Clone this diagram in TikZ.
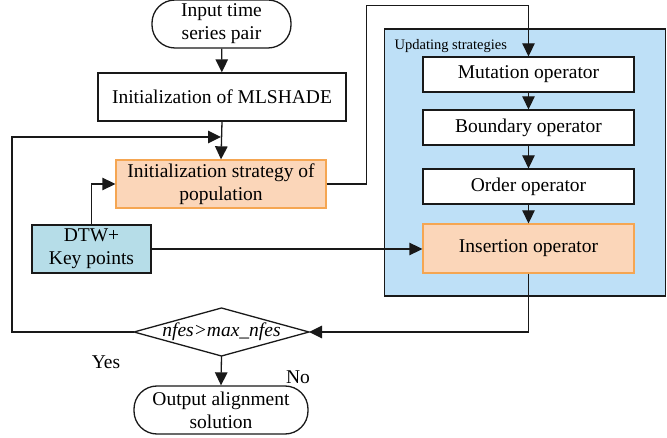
\documentclass[tikz,border=0pt]{standalone}
\usepackage{fontspec}
\setmainfont{Liberation Serif}
\usetikzlibrary{arrows.meta}
\definecolor{contblue}{RGB}{190,224,247}
\definecolor{orfill}{RGB}{251,214,185}
\definecolor{ordraw}{RGB}{245,166,82}
\definecolor{dtwfill}{RGB}{182,221,232}
\definecolor{linegray}{RGB}{25,25,25}
\begin{document}
\begin{tikzpicture}[x=1pt,y=-1pt,
  every node/.style={font=\fontsize{19.5}{23}\selectfont, inner sep=0pt, align=center},
  line width=1.3pt, draw=linegray,
  >={Triangle[length=13pt,width=12.5pt]},
  box/.style={draw=linegray, fill=white, minimum height=35pt, minimum width=211pt},
  orbox/.style={draw=ordraw, fill=orfill, minimum height=48pt},
  term/.style={draw=linegray, fill=white, rounded corners=23pt, minimum height=48pt},
  conn/.style={->, draw=linegray}]
\useasboundingbox (0,0) rectangle (667,438);
% container
\node[draw=linegray, fill=contblue, minimum width=281pt, minimum height=267pt] (cont) at (525,162.5) {};
\node[anchor=west, font=\fontsize{14.5}{17}\selectfont] (contlabel) at (394,46) {Updating strategies};
% left column
\node[term, minimum width=139pt] (input) at (221.5,24) {Input time\\series pair};
\node[box, minimum width=248pt, minimum height=48pt] (mlshade) at (222,97) {Initialization of MLSHADE};
\node[orbox, minimum width=210pt] (initpop) at (221,184) {Initialization strategy of\\population};
\node[draw=linegray, fill=dtwfill, minimum width=119pt, minimum height=48pt] (dtw) at (91.5,249) {DTW+\\Key points};
% right column
\node[box] (mut) at (528.5,74.5) {Mutation operator};
\node[box] (bnd) at (528.5,127.5) {Boundary operator};
\node[box] (ord) at (528.5,186.5) {Order operator};
\node[orbox, minimum width=211pt, minimum height=49pt] (ins) at (528.5,248.5) {Insertion operator};
% decision
\node (dec) at (221.5,332) {\textit{nfes>max\_nfes}};
\coordinate (decL) at (134,332);
\coordinate (decR) at (309,332);
\coordinate (decT) at (221.5,308);
\coordinate (decB) at (221.5,356);
\draw[linegray] (decL) -- (decT) -- (decR) -- (decB) -- cycle;
\node (yes) at (106,362) {Yes};
\node (no) at (298,377) {No};
\node[term, minimum width=174pt] (output) at (221,410) {Output alignment\\solution};
% connectors
\coordinate (merge) at (221,137);
\draw[conn] (input) -- (mlshade);
\draw[conn] (mlshade.south) -- (initpop.north);
\draw[conn] (decL) -- ++(-122,0) |- (merge);
\draw[conn] (initpop.east) -- ++(40,0) |- ([yshift=51pt]mut.north) -- (mut.north);
\draw[conn] (mut) -- (bnd);
\draw[conn] (bnd) -- (ord);
\draw[conn] (ord) -- (ins);
\draw[conn] (ins.south) |- (decR);
\draw[conn] (dtw.north) |- (initpop.west);
\draw[conn] (dtw.east) -- (dtw.east -| ins.west);
\draw[conn] (decB) -- (output.north);
\end{tikzpicture}
\end{document}
